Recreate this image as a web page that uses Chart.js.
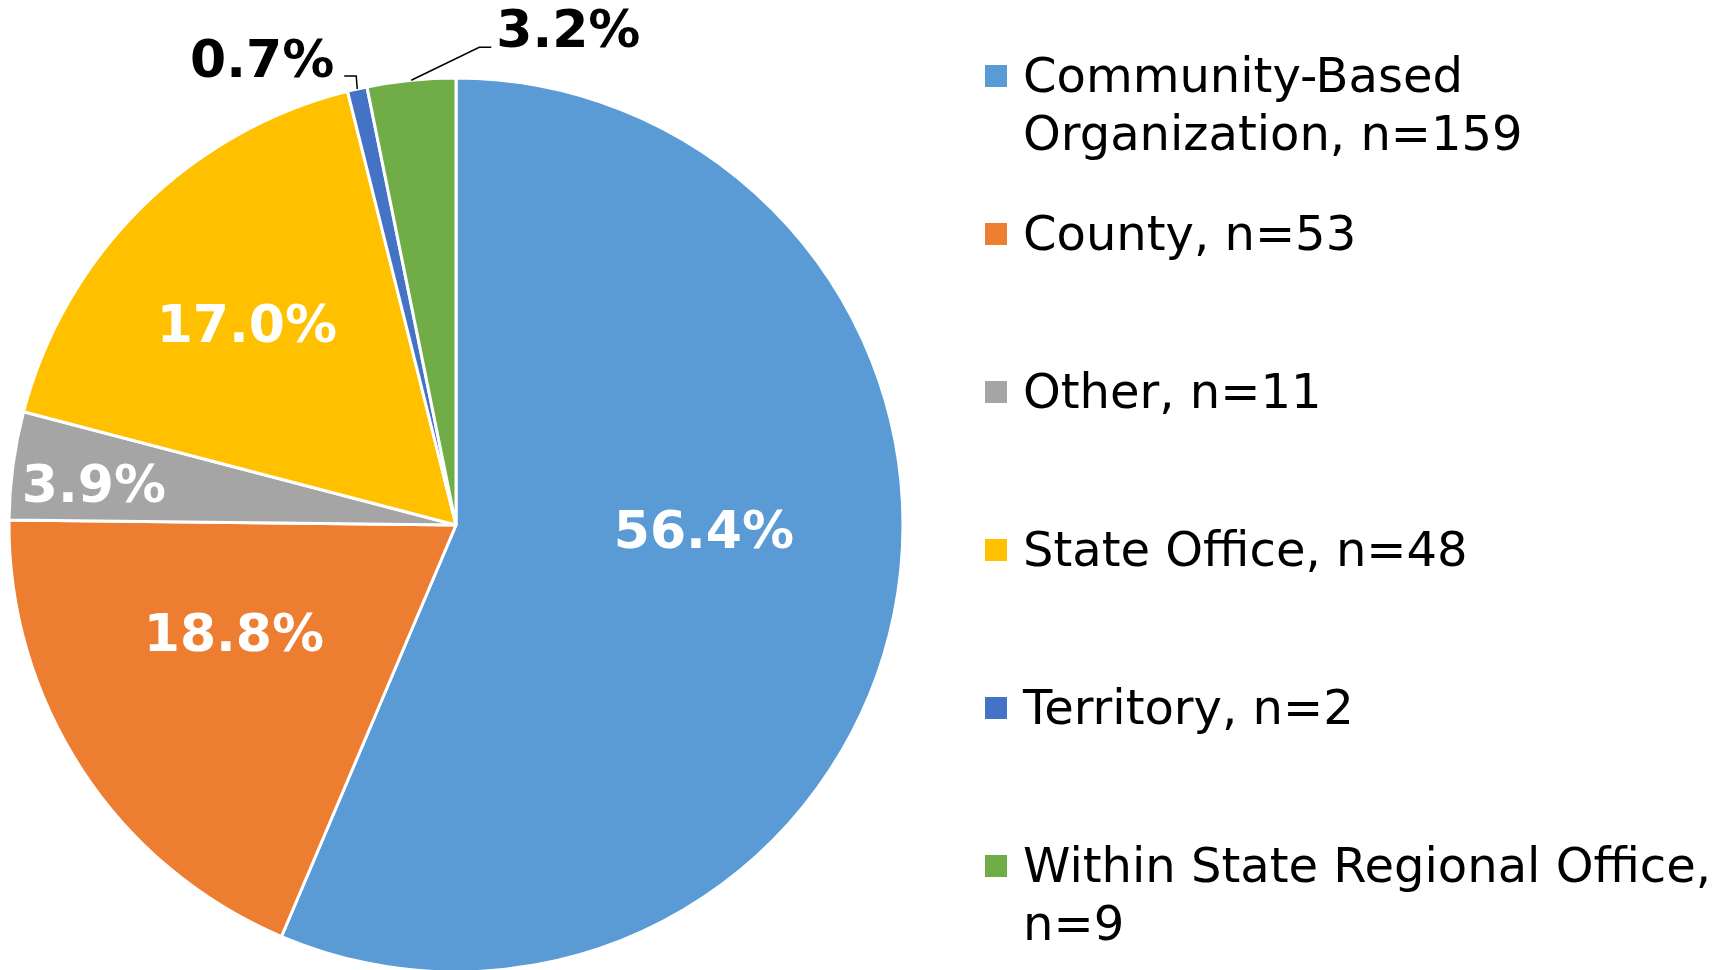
<!DOCTYPE html>
<html>
<head>
<meta charset="utf-8">
<script src="https://cdn.jsdelivr.net/npm/chart.js@4"></script>
<style>
  html, body { margin: 0; padding: 0; background: #fff; }
  canvas { display: block; }
</style>
</head>
<body>
<canvas id="pieChart" width="1732" height="970"></canvas>
<script>
// data
const categories = [
  'Community-Based Organization',
  'County',
  'Other',
  'State Office',
  'Territory',
  'Within State Regional Office'
];
const counts = [159, 53, 11, 48, 2, 9];
const sliceColors = ['#5B9BD5', '#ED7D31', '#A5A5A5', '#FFC000', '#4472C4', '#70AD47'];

const total = counts.reduce((a, b) => a + b, 0);
const percentText = counts.map(c => (c / total * 100).toFixed(1) + '%');

// where each label sits relative to its slice
const labelPlacement = [
  { r: 0.555, da: -9.4 },
  { r: 0.557, da: 6.3 },
  { r: 0.814, da: -1.9 },
  { r: 0.642, da: -2.1 },
  { outside: true, ex: -1, ey: -13, tail: -12, gap: -10, by: 1 },
  { outside: true, ex: 68, ey: -33, tail: 12, gap: 5, by: 0 }
];

const FONT = '"DejaVu Sans", Verdana, sans-serif';

const sliceLabels = {
  id: 'sliceLabels',
  afterDatasetsDraw(chart) {
    const ctx = chart.ctx;
    const arcs = chart.getDatasetMeta(0).data;
    ctx.save();
    ctx.font = 'bold 52px ' + FONT;
    arcs.forEach((arc, i) => {
      const p = arc.getProps(['x', 'y', 'startAngle', 'endAngle', 'outerRadius'], true);
      const place = labelPlacement[i];
      const mid = (p.startAngle + p.endAngle) / 2;
      if (!place.outside) {
        const a = mid + place.da * Math.PI / 180;
        const r = p.outerRadius * place.r;
        ctx.fillStyle = '#fff';
        ctx.textAlign = 'center';
        ctx.textBaseline = 'middle';
        ctx.fillText(percentText[i], p.x + Math.cos(a) * r, p.y + Math.sin(a) * r);
      } else {
        const edgeX = p.x + Math.cos(mid) * p.outerRadius;
        const edgeY = p.y + Math.sin(mid) * p.outerRadius;
        const elbowX = edgeX + place.ex;
        const elbowY = edgeY + place.ey;
        const endX = elbowX + place.tail;
        ctx.strokeStyle = '#000';
        ctx.lineWidth = 1.5;
        ctx.beginPath();
        ctx.moveTo(edgeX, edgeY);
        ctx.lineTo(elbowX, elbowY);
        ctx.lineTo(endX, elbowY);
        ctx.stroke();
        ctx.fillStyle = '#000';
        ctx.textAlign = place.tail < 0 ? 'right' : 'left';
        ctx.textBaseline = 'alphabetic';
        ctx.fillText(percentText[i], endX + place.gap, elbowY + place.by);
      }
    });
    ctx.restore();
  }
};

// legend on the right, drawn by hand so long names can wrap
const sideLegend = {
  id: 'sideLegend',
  afterDraw(chart) {
    const ctx = chart.ctx;
    const textX = 1023;
    const boxX = 985;
    const firstBaseline = 92;
    const itemStep = 158;
    const lineStep = 58;
    const maxWidth = 702;
    ctx.save();
    ctx.font = '48px ' + FONT;
    ctx.textAlign = 'left';
    ctx.textBaseline = 'alphabetic';
    chart.data.labels.forEach((label, i) => {
      const base = firstBaseline + i * itemStep;
      ctx.fillStyle = sliceColors[i];
      ctx.fillRect(boxX, base - 27, 22, 22);

      const words = (label + ', n=' + counts[i]).split(' ');
      const lines = [];
      let line = '';
      words.forEach(w => {
        const test = line ? line + ' ' + w : w;
        if (line && ctx.measureText(test).width > maxWidth) {
          lines.push(line);
          line = w;
        } else {
          line = test;
        }
      });
      if (line) lines.push(line);

      ctx.fillStyle = '#000';
      lines.forEach((ln, k) => ctx.fillText(ln, textX, base + k * lineStep));
    });
    ctx.restore();
  }
};

const ctx = document.getElementById('pieChart');
new Chart(ctx, {
  type: 'pie',
  data: {
    labels: categories,
    datasets: [{
      data: counts,
      backgroundColor: sliceColors,
      borderColor: '#fff',
      borderWidth: 3,
      radius: 447
    }]
  },
  options: {
    responsive: false,
    animation: false,
    devicePixelRatio: 1,
    layout: { padding: { left: 0, right: 820, top: 80, bottom: 0 } },
    plugins: {
      legend: { display: false },
      tooltip: { enabled: false }
    }
  },
  plugins: [sliceLabels, sideLegend]
});
</script>
</body>
</html>
